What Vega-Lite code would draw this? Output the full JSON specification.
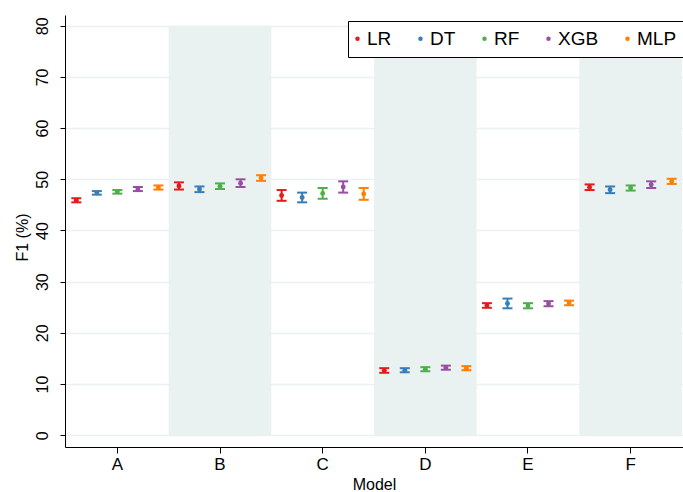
{
  "$schema": "https://vega.github.io/schema/vega-lite/v6.json",
  "width": 618,
  "height": 432,
  "autosize": {"type": "none"},
  "padding": {"left": 65, "top": 15, "right": 0, "bottom": 45},
  "background": "white",
  "config": {
    "font": "Liberation Sans",
    "view": {"stroke": null},
    "axis": {
      "domainColor": "black",
      "tickColor": "black",
      "labelColor": "black",
      "titleColor": "black",
      "labelFont": "Liberation Sans",
      "titleFont": "Liberation Sans",
      "titleFontWeight": "normal",
      "domainWidth": 1,
      "tickWidth": 1
    },
    "axisY": {
      "grid": true,
      "gridColor": "#eaf2f1",
      "gridWidth": 1.5,
      "labelAngle": 270,
      "labelFontSize": 16,
      "labelAlign": "center",
      "labelBaseline": "bottom",
      "labelPadding": 10,
      "tickSize": 5,
      "titleFontSize": 16,
      "titleAngle": 270,
      "titleAlign": "center",
      "titleBaseline": "middle",
      "titleX": -43,
      "titleY": 222
    },
    "axisX": {
      "grid": false,
      "labelAngle": 0,
      "labelFontSize": 17,
      "tickSize": 6,
      "labelPadding": 3,
      "titleFontSize": 16,
      "titlePadding": 4
    }
  },
  "datasets": {
    "bands": [{"model": "B"}, {"model": "D"}, {"model": "F"}],
    "f1": [
      {"model": "A", "method": "LR", "f1": 45.9, "lo": 45.5, "hi": 46.3},
      {"model": "A", "method": "DT", "f1": 47.35, "lo": 47.0, "hi": 47.7},
      {"model": "A", "method": "RF", "f1": 47.55, "lo": 47.2, "hi": 47.9},
      {"model": "A", "method": "XGB", "f1": 48.1, "lo": 47.7, "hi": 48.5},
      {"model": "A", "method": "MLP", "f1": 48.4, "lo": 48.0, "hi": 48.8},
      {"model": "B", "method": "LR", "f1": 48.7, "lo": 48.0, "hi": 49.4},
      {"model": "B", "method": "DT", "f1": 48.05, "lo": 47.5, "hi": 48.6},
      {"model": "B", "method": "RF", "f1": 48.65, "lo": 48.1, "hi": 49.2},
      {"model": "B", "method": "XGB", "f1": 49.25, "lo": 48.5, "hi": 50.0},
      {"model": "B", "method": "MLP", "f1": 50.25, "lo": 49.7, "hi": 50.8},
      {"model": "C", "method": "LR", "f1": 46.85, "lo": 45.8, "hi": 47.9},
      {"model": "C", "method": "DT", "f1": 46.45, "lo": 45.5, "hi": 47.4},
      {"model": "C", "method": "RF", "f1": 47.25, "lo": 46.2, "hi": 48.3},
      {"model": "C", "method": "XGB", "f1": 48.5, "lo": 47.4, "hi": 49.6},
      {"model": "C", "method": "MLP", "f1": 47.15, "lo": 46.0, "hi": 48.3},
      {"model": "D", "method": "LR", "f1": 12.65, "lo": 12.2, "hi": 13.1},
      {"model": "D", "method": "DT", "f1": 12.7, "lo": 12.3, "hi": 13.1},
      {"model": "D", "method": "RF", "f1": 12.9, "lo": 12.5, "hi": 13.3},
      {"model": "D", "method": "XGB", "f1": 13.2, "lo": 12.8, "hi": 13.6},
      {"model": "D", "method": "MLP", "f1": 13.1, "lo": 12.7, "hi": 13.5},
      {"model": "E", "method": "LR", "f1": 25.35, "lo": 24.9, "hi": 25.8},
      {"model": "E", "method": "DT", "f1": 25.75, "lo": 24.8, "hi": 26.7},
      {"model": "E", "method": "RF", "f1": 25.3, "lo": 24.8, "hi": 25.8},
      {"model": "E", "method": "XGB", "f1": 25.7, "lo": 25.2, "hi": 26.2},
      {"model": "E", "method": "MLP", "f1": 25.85, "lo": 25.4, "hi": 26.3},
      {"model": "F", "method": "LR", "f1": 48.45, "lo": 47.9, "hi": 49.0},
      {"model": "F", "method": "DT", "f1": 47.95, "lo": 47.3, "hi": 48.6},
      {"model": "F", "method": "RF", "f1": 48.3, "lo": 47.8, "hi": 48.8},
      {"model": "F", "method": "XGB", "f1": 48.95, "lo": 48.3, "hi": 49.6},
      {"model": "F", "method": "MLP", "f1": 49.6, "lo": 49.1, "hi": 50.1}
    ]
  },
  "encoding": {
    "x": {
      "field": "model",
      "type": "nominal",
      "title": "Model",
      "scale": {"domain": ["A", "B", "C", "D", "E", "F"], "paddingInner": 0, "paddingOuter": 0.01}
    }
  },
  "layer": [
    {
      "data": {"name": "bands"},
      "mark": {"type": "rect", "color": "#eaf2f1"},
      "encoding": {
        "y": {
          "datum": 0,
          "type": "quantitative",
          "title": "F1 (%)",
          "scale": {"domain": [-2.3, 82.1], "nice": false, "zero": false},
          "axis": {"values": [0, 10, 20, 30, 40, 50, 60, 70, 80]}
        },
        "y2": {"datum": 80}
      }
    },
    {
      "data": {"name": "f1"},
      "mark": {"type": "point", "filled": true, "size": 24, "opacity": 1, "shape": "circle"},
      "encoding": {
        "xOffset": {"field": "method", "type": "nominal", "scale": {"domain": ["LR", "DT", "RF", "XGB", "MLP"]}},
        "y": {"field": "f1", "type": "quantitative", "title": "F1 (%)"},
        "color": {
          "field": "method",
          "type": "nominal",
          "scale": {"domain": ["LR", "DT", "RF", "XGB", "MLP"], "range": ["#e41a1c", "#377eb8", "#4daf4a", "#984ea3", "#ff7f00"]},
          "legend": {
            "title": null,
            "orient": "none",
            "legendX": 283,
            "legendY": 6,
            "direction": "horizontal",
            "columns": 5,
            "strokeColor": "black",
            "fillColor": "white",
            "padding": 8,
            "labelFontSize": 19,
            "labelFont": "Liberation Sans",
            "labelColor": "black",
            "symbolType": "circle",
            "symbolSize": 20,
            "symbolStrokeWidth": 0,
            "symbolOffset": -8,
            "labelOffset": 0,
            "columnPadding": 26
          }
        }
      }
    },
    {
      "data": {"name": "f1"},
      "mark": {"type": "rule", "strokeWidth": 2},
      "encoding": {
        "xOffset": {"field": "method", "type": "nominal"},
        "y": {"field": "lo", "type": "quantitative", "title": "F1 (%)"},
        "y2": {"field": "hi"},
        "color": {"field": "method", "type": "nominal"}
      }
    },
    {
      "data": {"name": "f1"},
      "mark": {"type": "tick", "orient": "horizontal", "size": 10, "thickness": 2, "opacity": 1},
      "encoding": {
        "xOffset": {"field": "method", "type": "nominal"},
        "y": {"field": "lo", "type": "quantitative", "title": "F1 (%)"},
        "color": {"field": "method", "type": "nominal"}
      }
    },
    {
      "data": {"name": "f1"},
      "mark": {"type": "tick", "orient": "horizontal", "size": 10, "thickness": 2, "opacity": 1},
      "encoding": {
        "xOffset": {"field": "method", "type": "nominal"},
        "y": {"field": "hi", "type": "quantitative", "title": "F1 (%)"},
        "color": {"field": "method", "type": "nominal"}
      }
    }
  ]
}
